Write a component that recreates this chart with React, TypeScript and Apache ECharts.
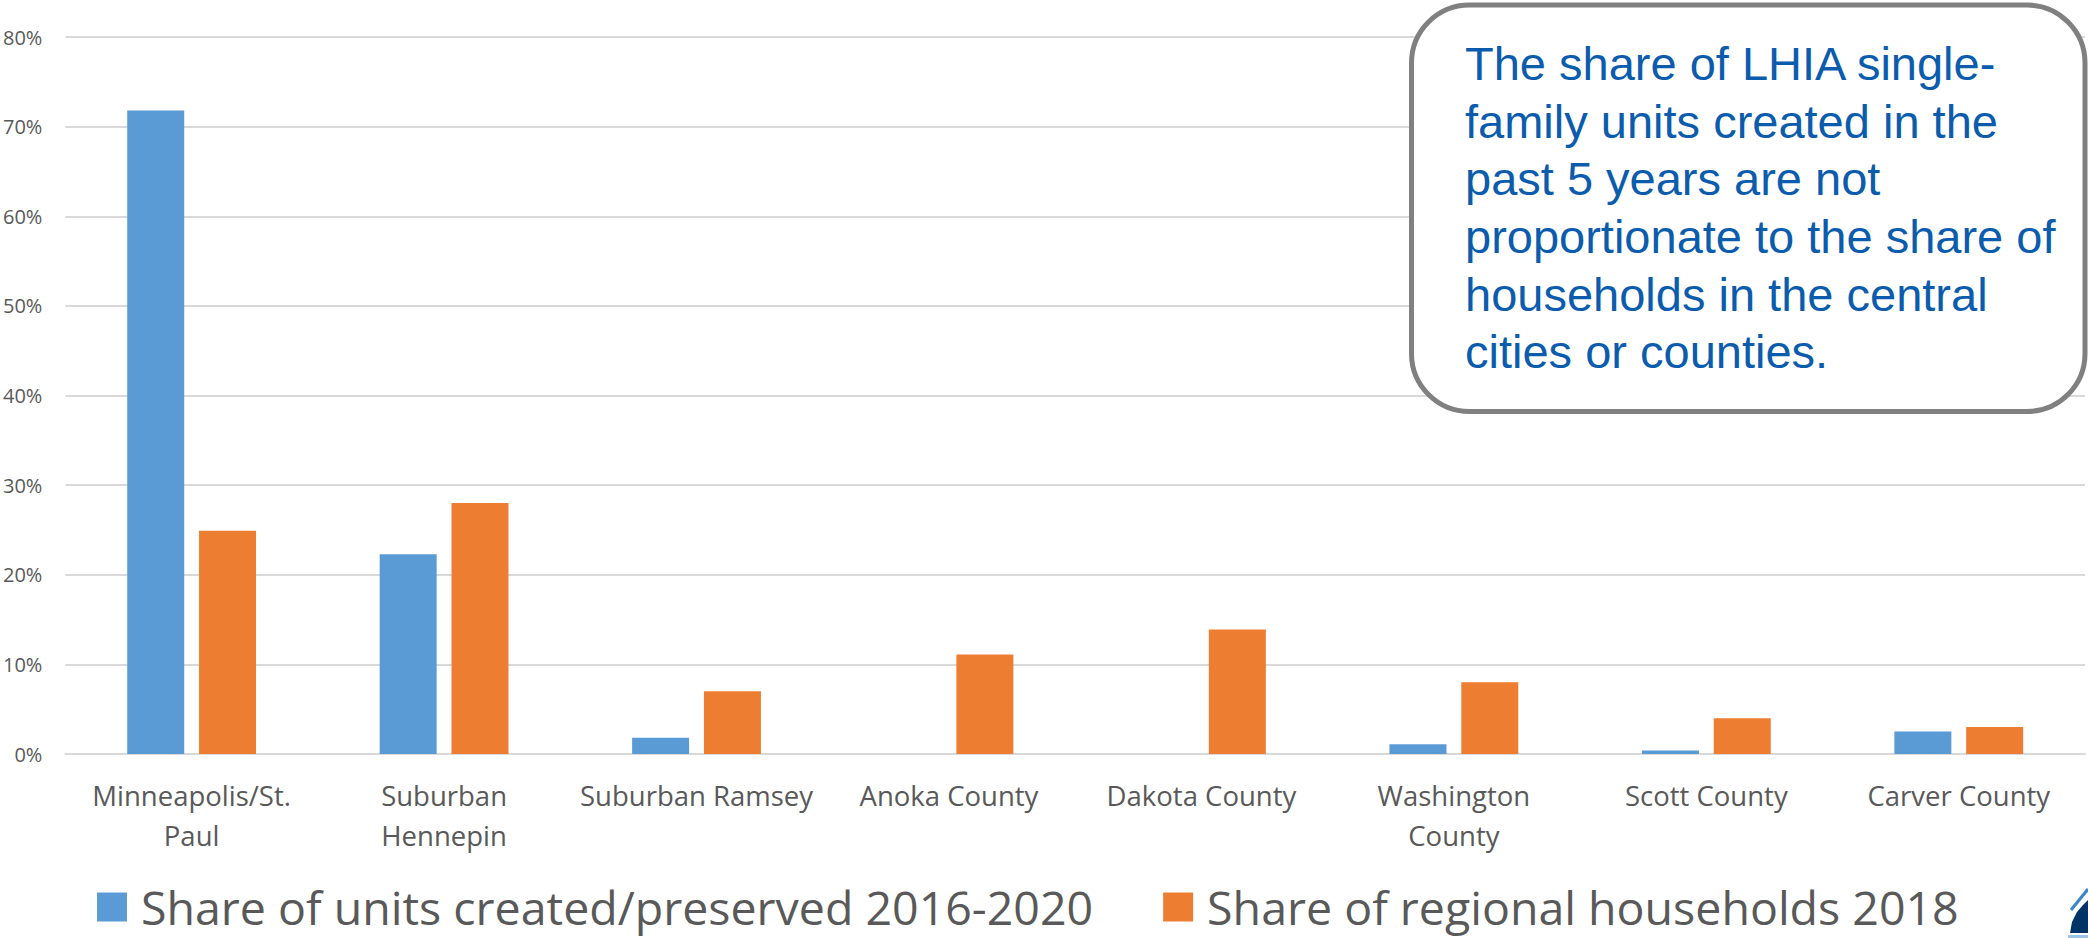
import React, { useEffect, useRef } from "react";
import * as echarts from "echarts";

const categories = [
  "Minneapolis/St.\nPaul",
  "Suburban\nHennepin",
  "Suburban Ramsey",
  "Anoka County",
  "Dakota County",
  "Washington\nCounty",
  "Scott County",
  "Carver County",
];
const seriesNames = [
  "Share of units created/preserved 2016-2020",
  "Share of regional households 2018",
];
const unitsCreated = [71.8, 22.3, 1.8, 0, 0, 1.1, 0.4, 2.5];
const regionalHouseholds = [24.9, 28.0, 7.0, 11.1, 13.9, 8.0, 4.0, 3.0];
const calloutLines = [
  "The share of LHIA single-",
  "family units created in the",
  "past 5 years are not",
  "proportionate to the share of",
  "households in the central",
  "cities or counties.",
];

const TEXT_GRAY = "#595959";
const FONT = "'Open Sans', 'Noto Sans', sans-serif";

export default function App() {
  const ref = useRef<HTMLDivElement>(null);
  useEffect(() => {
    if (!ref.current) return;
    const chart = echarts.init(ref.current, null, { renderer: "svg" });
    chart.setOption({
      animation: false,
      backgroundColor: "#ffffff",
      grid: { left: 65, right: 3, top: 37, bottom: 184, containLabel: false },
      legend: {
        left: 97,
        top: 882,
        padding: 0,
        icon: "rect",
        itemWidth: 30,
        itemHeight: 29,
        itemGap: 70,
        textStyle: {
          fontFamily: FONT,
          fontSize: 46.5,
          color: TEXT_GRAY,
          lineHeight: 50,
          padding: [0, 0, 0, 9],
        },
        data: seriesNames,
      },
      xAxis: {
        type: "category",
        data: categories,
        axisLine: { show: true, lineStyle: { color: "#d9d9d9", width: 2 } },
        axisTick: { show: false },
        axisLabel: {
          interval: 0,
          margin: 21,
          fontFamily: FONT,
          fontSize: 27.5,
          lineHeight: 40,
          color: TEXT_GRAY,
        },
      },
      yAxis: {
        type: "value",
        min: 0,
        max: 80,
        interval: 10,
        axisLine: { show: false },
        axisTick: { show: false },
        splitLine: { lineStyle: { color: "#d9d9d9", width: 2 } },
        axisLabel: {
          formatter: "{value}%",
          margin: 23,
          fontFamily: FONT,
          fontSize: 20,
          color: TEXT_GRAY,
        },
      },
      series: [
        {
          name: seriesNames[0],
          type: "bar",
          data: unitsCreated,
          barWidth: 57,
          barGap: "26%",
          itemStyle: { color: "#5B9BD5" },
        },
        {
          name: seriesNames[1],
          type: "bar",
          data: regionalHouseholds,
          barWidth: 57,
          barGap: "26%",
          itemStyle: { color: "#ED7D31" },
        },
      ],
      graphic: [
        {
          type: "rect",
          z: 100,
          shape: { x: 1411.5, y: 5, width: 673.5, height: 406.5, r: 58 },
          style: { fill: "#ffffff", stroke: "#808080", lineWidth: 5 },
        },
        {
          type: "text",
          z: 101,
          x: 1465,
          y: 34.6,
          style: {
            text: calloutLines.join("\n"),
            fill: "#0B5CAD",
            font: "47px 'Liberation Sans', Arial, sans-serif",
            lineHeight: 57.7,
            verticalAlign: "top",
            align: "left",
          },
        },
        {
          type: "polygon",
          z: 101,
          shape: {
            points: [
              [2070, 933],
              [2072, 922],
              [2077, 912],
              [2083, 905],
              [2088, 900],
              [2088, 933],
            ],
          },
          style: { fill: "#003466" },
        },
        {
          type: "line",
          z: 101,
          shape: { x1: 2071, y1: 910, x2: 2088, y2: 889 },
          style: { stroke: "#3A86C8", lineWidth: 3 },
        },
        {
          type: "rect",
          z: 101,
          shape: { x: 2068, y: 935, width: 20, height: 3 },
          style: { fill: "#9CC3E6" },
        },
      ],
    });
    return () => chart.dispose();
  }, []);
  return (
    <div
      ref={ref}
      style={{ width: 2088, height: 938, position: "absolute", left: 0, top: 0 }}
    />
  );
}
